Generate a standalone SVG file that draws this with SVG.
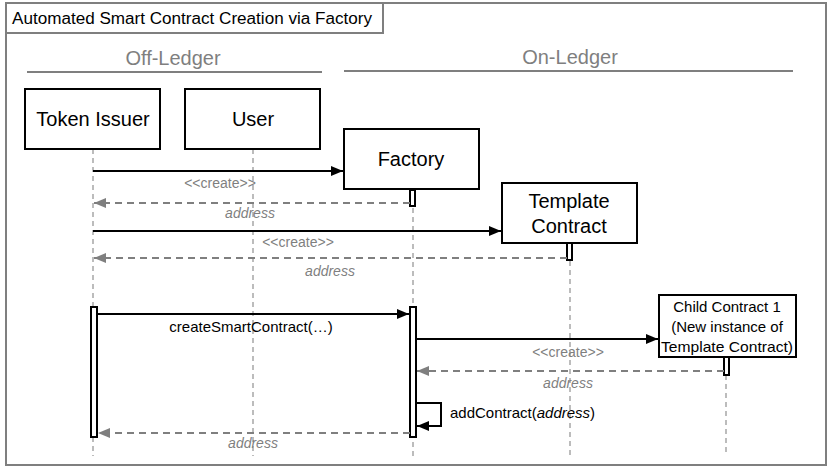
<svg xmlns="http://www.w3.org/2000/svg" width="829" height="469" viewBox="0 0 829 469">
<defs>
<marker id="ab" markerWidth="12" markerHeight="10" refX="12" refY="5" orient="auto" markerUnits="userSpaceOnUse"><path d="M0,0 L12,5 L0,10 z" fill="#000"/></marker>
<marker id="ag" markerWidth="12" markerHeight="10" refX="12" refY="5" orient="auto" markerUnits="userSpaceOnUse"><path d="M0,0 L12,5 L0,10 z" fill="#7f7f7f"/></marker>
<style>
.t{font-family:"Liberation Sans",Arial,sans-serif;}
.box{fill:#fff;stroke:#000;stroke-width:2;}
.act{fill:#fff;stroke:#000;stroke-width:2;}
.life{stroke:#a6a6a6;stroke-width:1.5;stroke-dasharray:5,4;fill:none;}
.msg{stroke:#000;stroke-width:2;fill:none;marker-end:url(#ab);}
.ret{stroke:#7f7f7f;stroke-width:2;stroke-dasharray:7,5;fill:none;marker-end:url(#ag);}
.lbl{font-size:14px;fill:#7f7f7f;}
.it{font-style:italic;}
.name{font-size:20px;fill:#000;text-anchor:middle;}
</style>
</defs>
<rect x="0" y="0" width="829" height="469" fill="#fff"/>
<rect x="6" y="3" width="820" height="462" fill="none" stroke="#7f7f7f" stroke-width="2"/>
<rect x="6" y="3" width="377" height="30" fill="#fff" stroke="#7f7f7f" stroke-width="2"/>
<text class="t" x="12" y="24" font-size="16" fill="#000" textLength="360" lengthAdjust="spacingAndGlyphs">Automated Smart Contract Creation via Factory</text>
<text class="t" x="173" y="65" font-size="20" fill="#7f7f7f" text-anchor="middle">Off-Ledger</text>
<line x1="27" y1="72" x2="322" y2="72" stroke="#7f7f7f" stroke-width="2"/>
<text class="t" x="570" y="64" font-size="20" fill="#7f7f7f" text-anchor="middle">On-Ledger</text>
<line x1="344" y1="71" x2="793" y2="71" stroke="#7f7f7f" stroke-width="2"/>
<g id="lifelines">
<line class="life" x1="93" y1="149" x2="93" y2="456"/>
<line class="life" x1="253" y1="149" x2="253" y2="456"/>
<line class="life" x1="413" y1="190" x2="413" y2="456"/>
<line class="life" x1="570" y1="243" x2="570" y2="456"/>
<line class="life" x1="726" y1="357" x2="726" y2="456"/>
</g>
<g id="token-issuer"><rect class="box" x="25" y="89" width="135" height="60"/><text class="t name" x="93" y="126">Token Issuer</text></g>
<g id="user"><rect class="box" x="185" y="89" width="135" height="60"/><text class="t name" x="253" y="126">User</text></g>
<g id="factory"><rect class="box" x="344" y="129" width="135" height="60"/><text class="t name" x="411" y="166">Factory</text></g>
<g id="template-contract"><rect class="box" x="502" y="183" width="135" height="60"/><text class="t name" x="569" y="208">Template</text><text class="t name" x="569" y="233">Contract</text></g>
<g id="child-contract"><rect class="box" x="659" y="295" width="137" height="62"/>
<text class="t" x="727" y="312" font-size="15" text-anchor="middle">Child Contract 1</text>
<text class="t" x="727" y="332" font-size="15" text-anchor="middle">(New instance of</text>
<text class="t" x="727" y="352" font-size="15" text-anchor="middle" textLength="132" lengthAdjust="spacingAndGlyphs">Template Contract)</text></g>
<g id="activations">
<rect class="act" x="410" y="190" width="5" height="16"/>
<rect class="act" x="567" y="243" width="5" height="17"/>
<rect class="act" x="91" y="307" width="6" height="130"/>
<rect class="act" x="410" y="307" width="6" height="130"/>
<rect class="act" x="724" y="357" width="5" height="18"/>
</g>
<g id="connectors">
<line class="msg" x1="93" y1="171" x2="343" y2="171"/>
<text class="t lbl" x="220" y="188" text-anchor="middle">&lt;&lt;create&gt;&gt;</text>
<line class="ret" x1="410" y1="203" x2="94" y2="203"/>
<text class="t lbl it" x="250" y="218" text-anchor="middle">address</text>
<line class="msg" x1="93" y1="231" x2="501" y2="231"/>
<text class="t lbl" x="298" y="247" text-anchor="middle">&lt;&lt;create&gt;&gt;</text>
<line class="ret" x1="567" y1="258" x2="94" y2="258"/>
<text class="t lbl it" x="330" y="276" text-anchor="middle">address</text>
<line class="msg" x1="97" y1="314" x2="409" y2="314"/>
<text class="t" x="251" y="332" font-size="15" text-anchor="middle">createSmartContract(…)</text>
<line class="msg" x1="416" y1="339" x2="658" y2="339"/>
<text class="t lbl" x="568" y="357" text-anchor="middle">&lt;&lt;create&gt;&gt;</text>
<line class="ret" x1="724" y1="371" x2="417" y2="371"/>
<text class="t lbl it" x="568" y="388" text-anchor="middle">address</text>
<polyline class="msg" points="416,403 441,403 441,426 417,426"/>
<text class="t" x="450" y="418" font-size="15">addContract(<tspan font-style="italic">address</tspan>)</text>
<line class="ret" x1="410" y1="433" x2="98" y2="433"/>
<text class="t lbl it" x="253" y="448" text-anchor="middle">address</text>
</g>
</svg>
